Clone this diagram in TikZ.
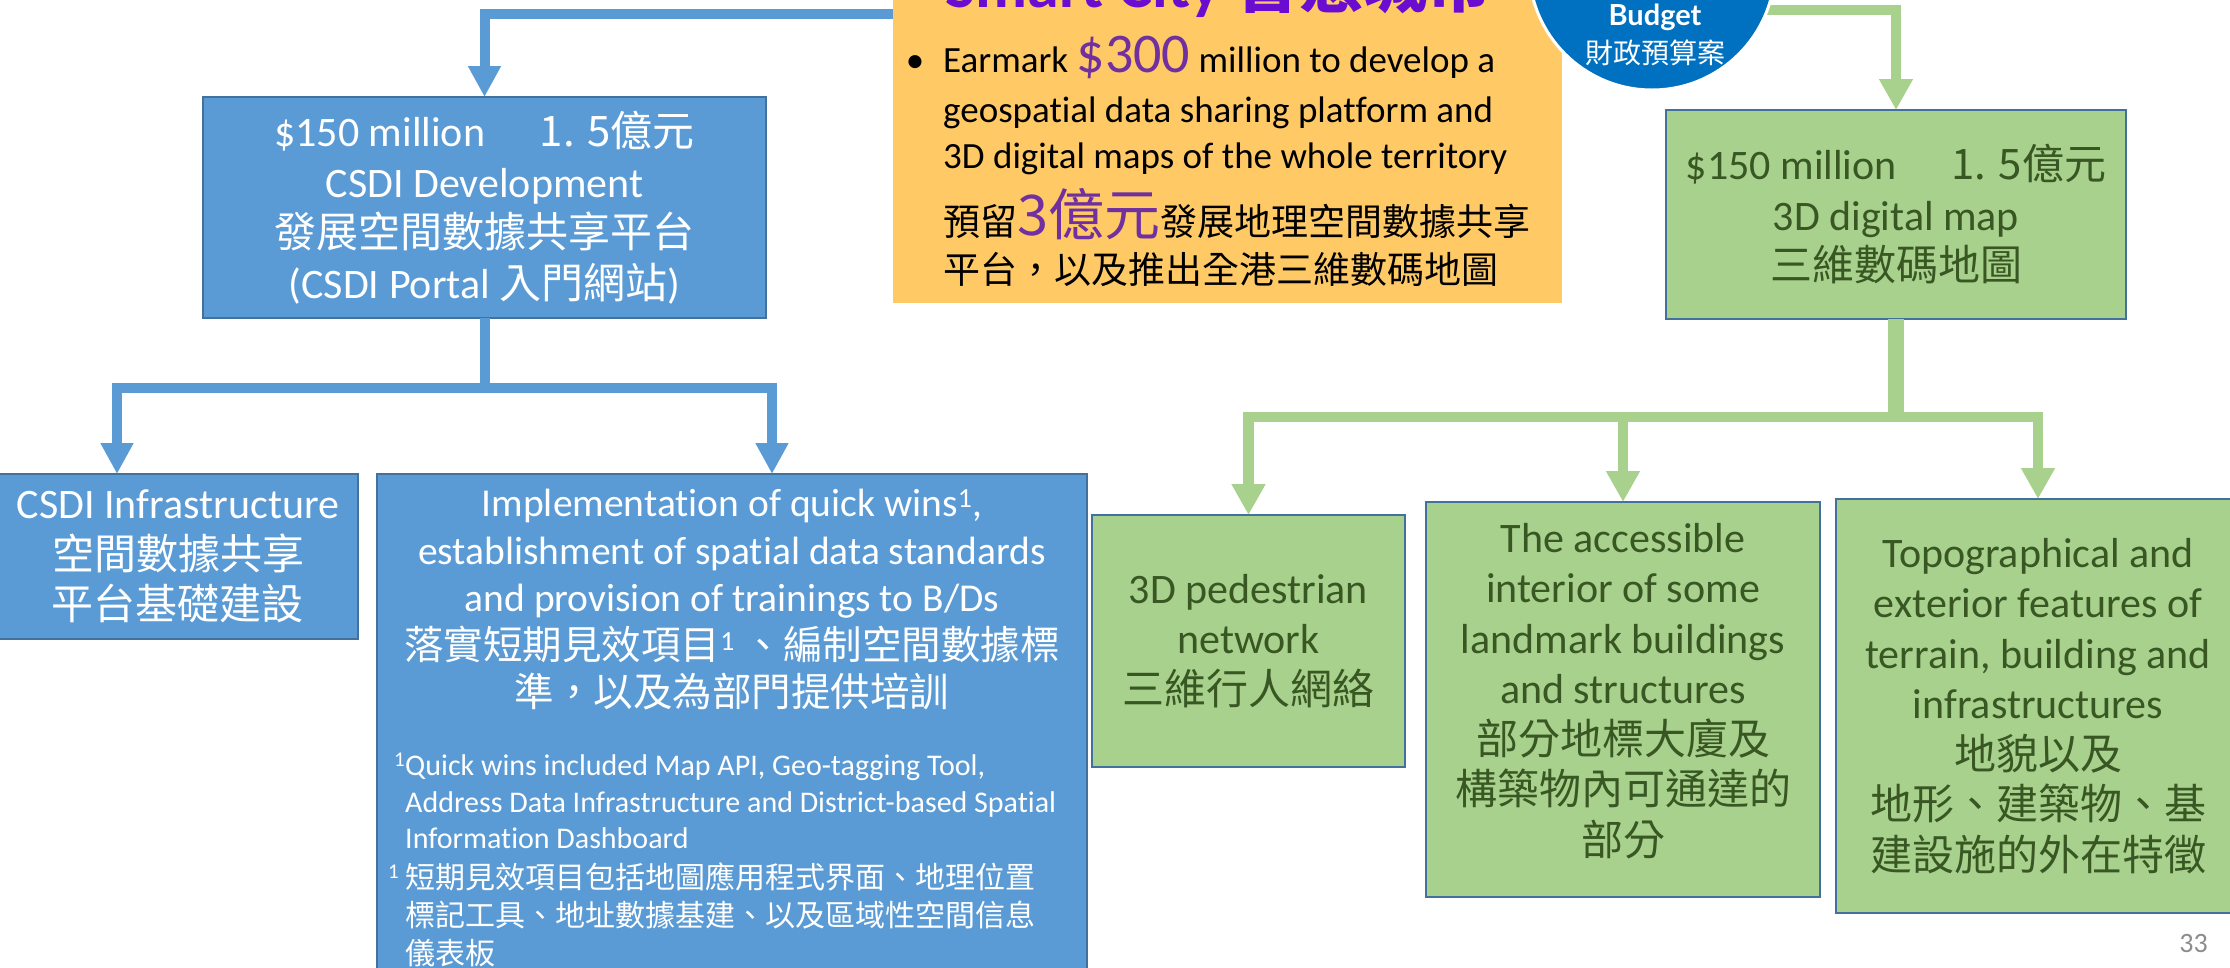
\documentclass[tikz,border=0pt]{standalone}
\usepackage{fontspec}
\setmainfont{Carlito}[Ligatures=NoCommon]
\newfontfamily\cjk{Noto Sans CJK TC}
\newfontfamily\latob{Lato}
\usetikzlibrary{arrows.meta,calc}
\definecolor{boxblue}{HTML}{5B9BD5}
\definecolor{edgeblue}{HTML}{41719C}
\definecolor{boxgreen}{HTML}{A9D18E}
\definecolor{textgreen}{HTML}{385723}
\definecolor{orangefill}{HTML}{FFC966}
\definecolor{purpleamt}{HTML}{7030A0}
\definecolor{purpletitle}{HTML}{6A0DD0}
\definecolor{budgetblue}{HTML}{0070C0}
\definecolor{pagegray}{HTML}{8C8C8C}
\newcommand\zht[1]{{\cjk #1}}
\tikzset{
  box/.style={rectangle, anchor=north west, inner sep=0pt, outer sep=0pt, line width=2.5pt, draw=edgeblue, align=center},
  bluebox/.style={box, fill=boxblue, text=white},
  greenbox/.style={box, fill=boxgreen, text=textgreen},
  big/.style={font=\fontsize{42}{50.5}\selectfont},
  bline/.style={draw=boxblue, line width=10pt},
  barrow/.style={bline, -{Triangle[length=31pt,width=31pt]}},
  gline/.style={draw=boxgreen, line width=10.5pt},
  garrow/.style={gline, -{Triangle[length=31pt,width=32pt]}},
  orangetext/.style={anchor=base west, inner sep=0pt, font=\fontsize{37}{44}\selectfont},
}
\begin{document}
\begin{tikzpicture}[x=1pt,y=-1pt]
\useasboundingbox (0,0) rectangle (2230,967);
\clip (0,0) rectangle (2230,967);

% upper boxes
\node[bluebox, big, minimum width=563pt, minimum height=221pt] (csdidev) at (203,97)
  {\$150 million\hspace{1.3em}\zht{1. 5億元}\\CSDI Development\\\zht{發展空間數據共享平台}\\(CSDI Portal \zht{入門網站})};
\node[greenbox, big, minimum width=460pt, minimum height=209pt] (map3d) at (1666,110)
  {\$150 million\hspace{1.3em}\zht{1. 5億元}\\3D digital map\\\zht{三維數碼地圖}};

% top connectors (start behind orange box / budget circle)
\coordinate (bstart) at (1000,14);
\coordinate (gstart) at (1652,10);
\draw[barrow] (bstart) -| (csdidev.north);
\draw[garrow] (gstart) -| (map3d.north);

% orange box
\node[anchor=north west, rectangle, fill=orangefill, minimum width=669pt, minimum height=353pt, inner sep=0pt, outer sep=0pt] (orange) at (893,-50) {};
\node[anchor=base west, inner sep=0pt, text=purpletitle, font=\fontsize{64}{70}\selectfont\bfseries] (title) at (945,7) {Smart City \zht{智慧城市}};
\node[orangetext] (o1) at (943,72) {\llap{•\hspace{19pt}}Earmark \textcolor{purpleamt}{\fontsize{56}{60}\selectfont\$300} million to develop a};
\node[orangetext] (o2) at (943,122) {geospatial data sharing platform and};
\node[orangetext] (o3) at (943,168) {3D digital maps of the whole territory};
\node[orangetext] (o4) at (943,235) {\zht{預留\textcolor{purpleamt}{\fontsize{56}{60}\selectfont 3億元}發展地理空間數據共享}};
\node[orangetext] (o5) at (943,283) {\zht{平台，以及推出全港三維數碼地圖}};

% budget circle
\node[circle, fill=budgetblue, draw=white, line width=3pt, minimum size=246pt, inner sep=0pt] (budget) at (1652,-33) {};
\node[anchor=base, inner sep=0pt, text=white, font=\latob\bfseries\fontsize{29}{32}\selectfont] (btitle) at (1655,25) {Budget};
\node[anchor=base, inner sep=0pt, text=white, font=\fontsize{28}{32}\selectfont] (bzh) at (1655,63) {\zht{財政預算案}};

% lower blue boxes
\node[bluebox, big, minimum width=360pt, minimum height=165pt] (infra) at (-2,474)
  {CSDI Infrastructure\\\zht{空間數據共享}\\\zht{平台基礎建設}};
\node[bluebox, minimum width=710pt, minimum height=540pt] (impl) at (377,474) {};
\node[anchor=north, inner sep=0pt, text=white, align=center, font=\fontsize{39.5}{47.5}\selectfont] (impltext) at ([yshift=-15pt]impl.north)
  {Implementation of quick wins\textsuperscript{1},\\
   establishment of spatial data standards\\
   and provision of trainings to B/Ds\\
   \zht{落實短期見效項目}\textsuperscript{1} \zht{、編制空間數據標}\\
   \zht{準，以及為部門提供培訓}};
\node[anchor=north west, inner sep=0pt, text=white, align=left, font=\fontsize{30}{36.5}\selectfont] (fn1) at (405,753)
  {\llap{\textsuperscript{1}}Quick wins included Map API, Geo-tagging Tool,\\
   Address Data Infrastructure and District-based Spatial\\
   Information Dashboard};
\node[anchor=north west, inner sep=0pt, text=white, align=left, font=\fontsize{30}{38}\selectfont] (fn2) at (405,862)
  {\llap{\textsuperscript{1}\hspace{6pt}}\zht{短期見效項目包括地圖應用程式界面、地理位置}\\
   \zht{標記工具、地址數據基建、以及區域性空間信息}\\
   \zht{儀表板}};

% lower green boxes
\node[greenbox, big, minimum width=313pt, minimum height=252pt] (ped) at (1092,515)
  {3D pedestrian\\network\\\zht{三維行人網絡}};
\node[greenbox, big, text depth=21pt, minimum width=394pt, minimum height=395pt] (mid) at (1426,502)
  {The accessible\\interior of some\\landmark buildings\\and structures\\\zht{部分地標大廈及}\\\zht{構築物內可通達的}\\\zht{部分}};
\node[greenbox, big, minimum width=404pt, minimum height=414pt] (topo) at (1836,499)
  {Topographical and\\exterior features of\\terrain, building and\\infrastructures\\\zht{地貌以及}\\\zht{地形、建築物、基}\\\zht{建設施的外在特徵}};

% blue tree
\coordinate (bj) at ($(csdidev.south)+(0,70)$);
\draw[bline] (csdidev.south) -- (bj);
\draw[barrow] (bj) -| ([xshift=-61pt]infra.north);
\draw[barrow] (bj) -| ([xshift=40pt]impl.north);

% green tree
\coordinate (gj) at ($(map3d.south)+(0,98)$);
\draw[gline, line width=16pt] (map3d.south) -- (gj);
\draw[garrow] (gj) -| (ped.north);
\draw[garrow] (gj) -| (mid.north);
\draw[garrow] (gj) -| (topo.north);

% page number
\node[anchor=base east, inner sep=0pt, text=pagegray, font=\fontsize{28}{30}\selectfont] (page) at (2208,952) {33};
\end{tikzpicture}
\end{document}
